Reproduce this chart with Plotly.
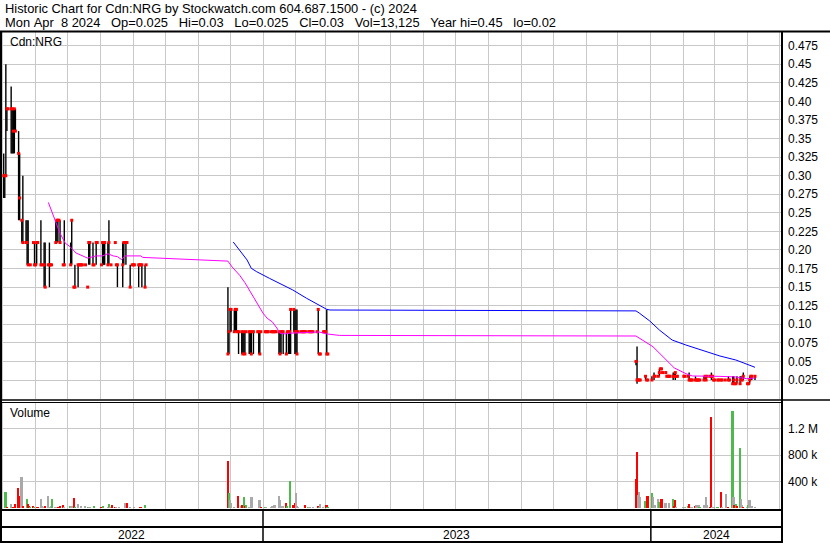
import pandas as pd
import plotly.graph_objects as go

# ---------------- price data (daily high / low / close) ----------------
seg1_days = ["05-02","05-03","05-04","05-05","05-06","05-09","05-10","05-11","05-12","05-13",
             "05-16","05-17","05-19","05-20","05-23","05-24","05-25","05-27","05-30","05-31",
             "06-01","06-02","06-03","06-06","06-07","06-09","06-10","06-13","06-14","06-15",
             "06-16","06-20","06-21","06-22","06-23","06-24","06-27","06-28","07-04","07-05",
             "07-07","07-08","07-11","07-12","07-13","07-14","07-15","07-18","07-20","07-21",
             "07-22","07-25","07-26","07-28","07-29","08-02","08-03","08-04","08-05","08-08",
             "08-09","08-11","08-15","08-16","08-17","08-22","08-23","08-24","08-25","08-26",
             "08-29","08-31","09-01","09-02","09-06","09-07","09-08","09-09","09-12","09-13"]
seg1_high = [.33,.30,.45,.39,.39,.42,.39,.39,.39,.39,
             .36,.33,.24,.30,.24,.24,.24,.18,.21,.21,
             .18,.21,.21,.24,.18,.21,.21,.18,.21,.18,
             .18,.24,.24,.24,.24,.24,.18,.24,.21,.24,
             .15,.18,.18,.18,.18,.18,.18,.18,.15,.21,
             .21,.21,.18,.21,.21,.18,.21,.21,.21,.21,
             .24,.18,.21,.18,.18,.21,.21,.21,.21,.21,
             .18,.18,.18,.18,.18,.18,.18,.18,.18,.18]
seg1_low = [.27,.27,.30,.36,.39,.33,.33,.33,.33,.36,
            .24,.24,.21,.21,.21,.18,.18,.18,.21,.18,
            .18,.18,.21,.18,.18,.15,.15,.18,.15,.18,
            .18,.21,.21,.21,.24,.21,.18,.18,.18,.18,
            .15,.15,.15,.18,.18,.18,.18,.18,.15,.18,
            .18,.18,.18,.18,.21,.18,.18,.18,.18,.18,
            .18,.18,.21,.18,.15,.15,.18,.21,.18,.21,
            .15,.18,.18,.18,.15,.18,.18,.15,.15,.18]
seg1_close = [.30,.30,.30,.39,.39,.39,.39,.36,.39,.36,
              .33,.27,.24,.21,.21,.21,.18,.18,.21,.18,
              .18,.21,.21,.18,.18,.18,.15,.18,.18,.18,
              .18,.21,.24,.24,.24,.21,.18,.18,.18,.24,
              .15,.15,.18,.18,.18,.18,.18,.18,.15,.21,
              .21,.18,.18,.21,.21,.18,.21,.21,.21,.18,
              .21,.18,.21,.18,.18,.18,.21,.21,.21,.21,
              .15,.18,.18,.18,.18,.18,.18,.18,.15,.18]

seg2_dates = ["2022-11-29","2022-11-30","2022-12-01","2022-12-02","2022-12-05","2022-12-06","2022-12-07",
              "2022-12-08","2022-12-09","2022-12-12","2022-12-13","2022-12-14","2022-12-15","2022-12-16",
              "2022-12-19","2022-12-20","2022-12-21","2022-12-22","2022-12-23","2022-12-27","2022-12-28",
              "2022-12-29","2022-12-30",
              "2023-01-03","2023-01-04","2023-01-05","2023-01-06","2023-01-09","2023-01-10","2023-01-11",
              "2023-01-12","2023-01-13","2023-01-16","2023-01-17","2023-01-18","2023-01-19","2023-01-20",
              "2023-01-23","2023-01-24","2023-01-25","2023-01-26","2023-01-27","2023-01-30","2023-01-31",
              "2023-02-01","2023-02-02","2023-02-03","2023-02-06","2023-02-07","2023-02-08","2023-02-09",
              "2023-02-10","2023-02-13","2023-02-14","2023-02-15","2023-02-16","2023-02-17","2023-02-21",
              "2023-02-22","2023-02-23","2023-02-24","2023-02-27","2023-02-28","2023-03-01","2023-03-02",
              "2023-03-03"]
seg2_high = [.15,.09,.12,.12,.12,.12,.12,.09,.09,.09,
             .09,.09,.09,.09,.09,.09,.09,.09,.09,.09,
             .09,.09,.09,.09,.09,.09,.09,.09,.09,.09,
             .09,.09,.09,.09,.09,.09,.09,.09,.09,.09,
             .09,.12,.12,.12,.12,.12,.09,.09,.09,.09,
             .09,.09,.09,.09,.09,.09,.09,.09,.12,.06,
             .06,.09,.09,.09,.12,.06]
seg2_low = [.06,.06,.09,.09,.09,.09,.09,.09,.06,.06,
            .06,.06,.06,.09,.06,.06,.06,.09,.06,.09,
            .06,.06,.09,.09,.09,.09,.09,.09,.09,.09,
            .09,.09,.06,.06,.06,.09,.06,.06,.09,.06,
            .06,.06,.09,.06,.06,.06,.09,.09,.09,.09,
            .09,.09,.09,.09,.09,.09,.09,.09,.06,.06,
            .06,.09,.09,.09,.06,.06]
seg2_close = [.06,.09,.12,.12,.09,.12,.12,.09,.09,.09,
              .06,.09,.06,.09,.09,.09,.06,.09,.09,.09,
              .09,.06,.09,.09,.09,.09,.09,.09,.09,.09,
              .09,.09,.09,.06,.09,.09,.09,.06,.09,.09,
              .09,.12,.12,.09,.09,.06,.09,.09,.09,.09,
              .09,.09,.09,.09,.09,.09,.09,.09,.12,.06,
              .06,.09,.09,.09,.06,.06]

seg3_dates = ["2023-12-18","2023-12-19","2023-12-20","2023-12-21","2023-12-22","2023-12-27","2023-12-28",
              "2023-12-29","2024-01-02","2024-01-04","2024-01-05","2024-01-08","2024-01-09","2024-01-10",
              "2024-01-11","2024-01-12","2024-01-15","2024-01-16","2024-01-17","2024-01-18","2024-01-19",
              "2024-01-22","2024-01-23","2024-01-24","2024-01-25","2024-01-26","2024-02-01","2024-02-02",
              "2024-02-05","2024-02-06","2024-02-07","2024-02-08","2024-02-09","2024-02-12","2024-02-13",
              "2024-02-14","2024-02-15","2024-02-16","2024-02-20","2024-02-21","2024-02-22","2024-02-23",
              "2024-02-26","2024-02-27","2024-02-28","2024-02-29","2024-03-01","2024-03-04","2024-03-05",
              "2024-03-07","2024-03-08","2024-03-11","2024-03-14","2024-03-15","2024-03-18","2024-03-19",
              "2024-03-20","2024-03-21","2024-03-22","2024-03-25","2024-03-26","2024-03-27","2024-03-28",
              "2024-04-01","2024-04-02","2024-04-03","2024-04-04","2024-04-05","2024-04-08"]
seg3_high = [.05,.07,.025,.025,.025,.03,.025,.025,.03,.035,
             .03,.03,.04,.04,.04,.035,.035,.03,.03,.03,
             .03,.035,.035,.035,.03,.03,.03,.03,.03,.035,
             .025,.025,.025,.03,.025,.025,.025,.025,.03,.03,
             .03,.03,.03,.035,.03,.025,.025,.025,.025,.025,
             .025,.025,.03,.025,.03,.03,.02,.02,.03,.03,
             .03,.025,.035,.02,.02,.03,.03,.03,.03]
seg3_low = [.045,.02,.025,.025,.025,.025,.025,.025,.025,.025,
            .03,.03,.03,.04,.04,.035,.035,.03,.03,.03,
            .03,.025,.03,.025,.03,.03,.03,.03,.03,.025,
            .025,.025,.025,.025,.025,.025,.025,.025,.025,.025,
            .025,.03,.03,.025,.03,.025,.025,.025,.025,.025,
            .025,.025,.025,.025,.02,.02,.02,.02,.02,.02,
            .025,.025,.025,.02,.02,.02,.025,.025,.025]
seg3_close = [.05,.025,.025,.025,.025,.03,.025,.025,.025,.03,
              .03,.03,.035,.04,.04,.035,.035,.03,.03,.03,
              .03,.03,.03,.035,.03,.03,.03,.03,.03,.025,
              .025,.025,.025,.025,.025,.025,.025,.025,.025,.03,
              .025,.03,.03,.03,.03,.025,.025,.025,.025,.025,
              .025,.025,.025,.025,.02,.025,.02,.02,.025,.02,
              .025,.025,.03,.02,.02,.025,.03,.03,.03]

# ---------------- moving averages ----------------
ma_short_dates = ["2022-06-13","2022-06-19","2022-06-24","2022-06-29","2022-07-03","2022-07-09","2022-07-14",
                  "2022-07-20","2022-07-28","2022-08-03","2022-08-08","2022-08-13","2022-08-17","2022-08-21",
                  "2022-08-24","2022-09-08","2022-09-10","2022-09-26","2022-11-21","2022-11-29","2022-12-03",
                  "2022-12-10","2022-12-15","2022-12-20","2022-12-24","2022-12-29","2023-01-01","2023-01-05",
                  "2023-01-10","2023-01-14","2023-01-17","2023-01-22","2023-01-26","2023-02-23","2023-03-02",
                  "2023-03-14","2023-12-18","2024-01-03","2024-01-15","2024-01-23","2024-02-03","2024-02-09",
                  "2024-03-06","2024-03-21","2024-03-31","2024-04-08"]
ma_short = [.264,.240,.2225,.209,.205,.196,.193,
            .189,.192,.192,.195,.192,.191,.187,
            .192,.192,.190,.189,.185,.185,.177,
            .166,.156,.144,.134,.123,.115,.108,
            .103,.095,.088,.087,.088,.0896,.087,
            .085,.0842,.0698,.0519,.0413,.0335,.0304,
            .0299,.0291,.0268,.0277]

ma_long_dates = ["2022-12-04","2022-12-10","2022-12-17","2022-12-21","2022-12-26","2023-01-07","2023-01-17",
                 "2023-01-29","2023-02-11","2023-02-23","2023-03-02","2023-03-05","2023-12-18","2023-12-21",
                 "2023-12-31","2024-01-09","2024-01-21","2024-02-03","2024-02-19","2024-03-06","2024-03-21",
                 "2024-04-03","2024-04-08"]
ma_long = [.2107,.200,.1866,.1753,.1708,.1619,.1551,
           .1462,.135,.126,.1201,.1192,.118,.1152,
           .1044,.0923,.0788,.0721,.0645,.0573,.0519,
           .0452,.0421]

# ---------------- volume (u = up, d = down, n = unchanged) ----------------
vol1_days = ["05-04","05-05","05-09","05-10","05-11","05-12","05-13","05-16","05-17","05-19",
             "05-20","05-24","05-25","05-26","05-27","05-30","05-31","06-03","06-06","06-07",
             "06-08","06-10","06-13","06-14","06-16","06-17","06-20","06-22","06-24","06-27",
             "06-28","07-04","07-05","07-07","07-08","07-11","07-14","07-18","07-21","07-22",
             "07-26","08-02","08-04","08-08","08-09","08-10","08-12","08-15","08-16","08-19",
             "08-24","08-26","08-29","09-02","09-08","09-12"]
vol1 = [243000,12000,54000,15000,12000,15000,54000,305000,177000,474000,
        30000,131000,54000,20000,15000,30000,15000,12000,131000,30000,
        15000,30000,177000,12000,30000,131000,10000,10000,20000,46000,
        10000,20000,20000,146000,15000,54000,20000,30000,15000,15000,
        30000,12000,30000,15000,54000,10000,46000,15000,10000,15000,
        69000,69000,10000,15000,15000,46000]
vol1_dir = ["u","d","n","u","d","d","d","d","d","n",
            "d","u","d","d","u","d","u","d","n","n",
            "n","d","n","n","n","u","n","d","d","d",
            "n","u","n","d","u","n","n","n","u","n",
            "u","d","u","n","u","n","d","d","n","n",
            "n","d","n","n","d","u"]

vol2_dates = ["2022-11-29","2022-11-30","2022-12-01","2022-12-02","2022-12-05","2022-12-09","2022-12-12",
              "2022-12-13","2022-12-14","2022-12-15","2022-12-16","2022-12-19","2022-12-21","2022-12-22",
              "2022-12-29","2022-12-30","2023-01-03","2023-01-04","2023-01-09","2023-01-10","2023-01-12",
              "2023-01-16","2023-01-17","2023-01-18","2023-01-20","2023-01-23","2023-01-24","2023-01-27",
              "2023-01-30","2023-01-31","2023-02-01","2023-02-02","2023-02-03","2023-02-10","2023-02-13",
              "2023-02-14","2023-02-17","2023-02-22","2023-02-23","2023-02-24","2023-02-27","2023-03-02",
              "2023-03-03"]
vol2 = [715000,234000,115000,69000,15000,177000,30000,
        46000,161000,30000,46000,15000,161000,161000,
        115000,10000,10000,15000,10000,20000,46000,
        177000,115000,30000,20000,69000,30000,408000,
        46000,69000,223000,20000,15000,46000,15000,
        10000,10000,20000,10000,54000,10000,46000,
        10000]
vol2_dir = ["d","u","n","n","n","d","n",
            "d","u","d","u","n","n","n",
            "n","d","u","n","n","n","n",
            "n","n","n","n","d","u","u",
            "d","d","n","n","n","d","u",
            "n","n","d","u","n","n","d",
            "u"]

vol3_dates = ["2023-12-18","2023-12-19","2023-12-20","2023-12-21","2023-12-22","2023-12-27","2023-12-29",
              "2024-01-02","2024-01-03","2024-01-05","2024-01-08","2024-01-09","2024-01-11","2024-01-12",
              "2024-01-15","2024-01-18","2024-01-22","2024-01-23","2024-01-24","2024-01-25","2024-02-01",
              "2024-02-02","2024-02-05","2024-02-06","2024-02-08","2024-02-09","2024-02-12","2024-02-13",
              "2024-02-14","2024-02-15","2024-02-16","2024-02-20","2024-02-22","2024-02-23","2024-02-26",
              "2024-02-27","2024-02-28","2024-03-01","2024-03-04","2024-03-07","2024-03-08","2024-03-12",
              "2024-03-14","2024-03-18","2024-03-19","2024-03-20","2024-03-21","2024-03-22","2024-03-25",
              "2024-03-26","2024-03-27","2024-03-28","2024-04-01","2024-04-02","2024-04-03","2024-04-04",
              "2024-04-05","2024-04-08"]
vol3 = [438000,849000,192000,238000,166000,100000,177000,
        223000,161000,38000,131000,85000,135000,131000,
        74000,69000,131000,20000,115000,5000,15000,
        5000,20000,54000,15000,5000,20000,38000,
        38000,38000,15000,38000,161000,38000,5000,
        1380000,5000,15000,5000,238000,5000,208000,
        10000,1460000,161000,43000,58000,20000,900000,
        131000,38000,15000,15000,46000,115000,30000,
        20000,13125]
vol3_dir = ["d","d","n","n","n","u","d",
            "u","n","n","n","u","d","d",
            "n","n","u","d","d","n","n",
            "n","u","d","n","n","d","n",
            "n","n","u","n","n","n","d",
            "d","n","n","u","d","n","n",
            "d","u","n","d","u","d","u",
            "n","n","d","n","u","n","n",
            "n","n"]

price_ticks = [0.025, 0.05, 0.075, 0.10, 0.125, 0.15, 0.175, 0.20, 0.225, 0.25,
               0.275, 0.30, 0.325, 0.35, 0.375, 0.40, 0.425, 0.45, 0.475]
price_tick_text = ["0.025", "0.05", "0.075", "0.10", "0.125", "0.15", "0.175", "0.20", "0.225", "0.25",
                   "0.275", "0.30", "0.325", "0.35", "0.375", "0.40", "0.425", "0.45", "0.475"]
vol_ticks = [400000, 800000, 1200000]
vol_tick_text = ["400 k", "800 k", "1.2 M"]
years = ["2022", "2023", "2024"]
year_starts = ["2023-01-01", "2024-01-01"]

title1 = "Historic Chart for Cdn:NRG by Stockwatch.com 604.687.1500 - (c) 2024"
title2_items = ["Mon Apr  8 2024", "Op=0.025", "Hi=0.03", "Lo=0.025", "Cl=0.03",
                "Vol=13,125", "Year hi=0.45", "lo=0.02"]

# ---------------- assemble ----------------
p_dates = ["2022-" + d for d in seg1_days] + seg2_dates + seg3_dates
p_high = seg1_high + seg2_high + seg3_high
p_low = seg1_low + seg2_low + seg3_low
p_close = seg1_close + seg2_close + seg3_close

v_dates = ["2022-" + d for d in vol1_days] + vol2_dates + vol3_dates
v_vals = vol1 + vol2 + vol3
v_dir = vol1_dir + vol2_dir + vol3_dir
dir_color = {"u": "#4CBB4C", "d": "#FF0000", "n": "#A9A9A9"}

W, H = 830, 543
FONT = "Arial, Liberation Sans, sans-serif"
X_START = pd.Timestamp("2022-04-28 12:00")
X_END = pd.Timestamp("2024-05-03 10:00")
AX_R = 782  # px of right axis line


def px(x):
    return x / W


def py(y):
    return 1 - y / H


hl_x, hl_y = [], []
for d, hi, lo in zip(p_dates, p_high, p_low):
    hl_x += [d, d, None]
    hl_y += [lo, hi, None]

fig = go.Figure()
fig.add_trace(go.Scatter(x=hl_x, y=hl_y, mode="lines",
                         line=dict(color="black", width=1.4),
                         xaxis="x", yaxis="y", hoverinfo="skip"))
fig.add_trace(go.Scatter(x=p_dates, y=p_close, mode="markers",
                         marker=dict(symbol="square", size=3, color="#FF0000",
                                     line=dict(width=0)),
                         xaxis="x", yaxis="y"))
fig.add_trace(go.Scatter(x=ma_short_dates, y=ma_short, mode="lines",
                         line=dict(color="#FF00FF", width=1), xaxis="x", yaxis="y"))
fig.add_trace(go.Scatter(x=ma_long_dates, y=ma_long, mode="lines",
                         line=dict(color="#0000FF", width=1), xaxis="x", yaxis="y"))
fig.add_trace(go.Bar(x=v_dates, y=v_vals, marker=dict(color=[dir_color[c] for c in v_dir],
                                                     line=dict(width=0)),
                     width=1.6 * 86400000, xaxis="x2", yaxis="y2"))

grid = "#C8C8C8"
xcommon = dict(type="date", range=[X_START, X_END], domain=[0, px(AX_R)],
               showgrid=True, gridcolor=grid, gridwidth=1, dtick="M1", tick0="2022-05-01",
               showticklabels=False, ticks="", zeroline=False, showline=False)

fig.update_layout(
    width=W, height=H, margin=dict(l=0, r=0, t=0, b=0), autosize=False,
    paper_bgcolor="white", plot_bgcolor="white", showlegend=False,
    font=dict(family=FONT, size=12, color="black"),
    xaxis=dict(anchor="y", **xcommon),
    xaxis2=dict(anchor="y2", matches="x", **xcommon),
    yaxis=dict(domain=[py(399), py(32)], range=[-0.00058, 0.4934], side="right",
               anchor="x", tickvals=price_ticks, ticktext=price_tick_text,
               showgrid=True, gridcolor=grid, gridwidth=1, zeroline=False,
               showline=False, ticks="", ticklabelstandoff=5,
               tickfont=dict(family=FONT, size=12, color="black")),
    yaxis2=dict(domain=[py(509), py(402)], range=[-15094, 1600000], side="right",
                anchor="x2", tickvals=vol_ticks, ticktext=vol_tick_text,
                showgrid=True, gridcolor=grid, gridwidth=1, zeroline=False,
                showline=False, ticks="", ticklabelstandoff=5,
                tickfont=dict(family=FONT, size=12, color="black")),
    bargap=0,
)


def hline(y, x0, x1, w):
    return dict(type="line", xref="paper", yref="paper", x0=px(x0), x1=px(x1),
                y0=py(y), y1=py(y), line=dict(color="black", width=w), layer="above")


def vline(x, y0, y1, w):
    return dict(type="line", xref="paper", yref="paper", x0=px(x), x1=px(x),
                y0=py(y0), y1=py(y1), line=dict(color="black", width=w), layer="above")


shapes = [
    hline(31.5, 0, W, 2),
    hline(400, 0, W, 1.5),
    hline(402.5, 0, AX_R, 1),
    hline(510, 0, AX_R, 2),
    hline(527, 0, AX_R, 2),
    hline(542, 0, AX_R, 2),
    vline(AX_R, 31, H, 2),
    vline(1, 31, H, 2),
]
for ys in year_starts:
    shapes.append(dict(type="line", xref="x", yref="paper", x0=ys, x1=ys,
                       y0=py(510), y1=py(542), line=dict(color="black", width=1.5),
                       layer="above"))
fig.update_layout(shapes=shapes)

nb = "\u00a0"
title2 = (nb * 3).join(t.replace(" ", nb) for t in title2_items)
ann = [
    dict(text=title1, x=px(3), y=py(8.5), font=dict(family=FONT, size=12.9, color="black")),
    dict(text=title2, x=px(3), y=py(22.5), font=dict(family=FONT, size=12.9, color="black")),
    dict(text="Cdn:NRG", x=px(8), y=py(42), font=dict(family=FONT, size=12, color="black")),
    dict(text="Volume", x=px(8), y=py(413), font=dict(family=FONT, size=12, color="black")),
]
annotations = [dict(xref="paper", yref="paper", xanchor="left", yanchor="middle",
                    showarrow=False, **a) for a in ann]
bounds = [X_START, pd.Timestamp(year_starts[0]), pd.Timestamp(year_starts[1]), X_END]
for i, yr in enumerate(years):
    mid = bounds[i] + (bounds[i + 1] - bounds[i]) / 2
    annotations.append(dict(text=yr, xref="x", yref="paper", x=mid, y=py(535),
                            xanchor="center", yanchor="middle", showarrow=False,
                            font=dict(family=FONT, size=12, color="black")))
fig.update_layout(annotations=annotations)

fig.write_html("out.html", config={"displayModeBar": False},
               post_script="document.body.style.margin='0';"
                           "document.body.style.overflow='hidden';")
